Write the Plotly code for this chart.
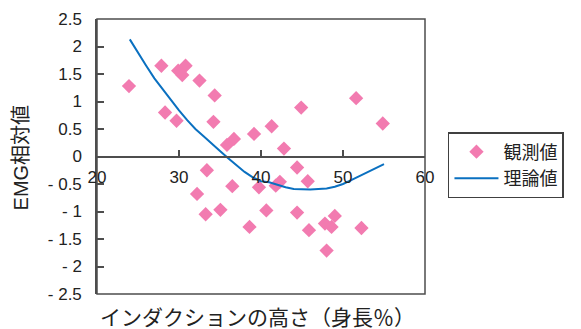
import plotly.graph_objects as go

# Observed values (観測値)
obs_x = [23.9, 27.85, 29.9, 30.8, 30.4, 32.5, 34.35, 28.3, 29.7, 34.2,
         44.9, 41.3, 39.15, 36.7, 35.85, 42.8, 51.6, 54.85,
         33.4, 32.2, 36.5, 33.25, 35.05, 38.6, 39.75, 40.65, 41.8, 42.3,
         44.4, 45.7, 44.4, 45.85, 47.8, 48.6, 49.0, 52.25, 48.0]
obs_y = [1.28, 1.65, 1.56, 1.65, 1.48, 1.38, 1.11, 0.80, 0.65, 0.63,
         0.89, 0.55, 0.41, 0.32, 0.21, 0.145, 1.06, 0.60,
         -0.25, -0.68, -0.54, -1.05, -0.97, -1.28, -0.56, -0.98, -0.53, -0.46,
         -0.20, -0.45, -1.02, -1.34, -1.22, -1.28, -1.08, -1.30, -1.71]

# Theoretical curve (理論値)
th_x = [24, 25, 26, 27, 28, 29, 30, 31, 32, 33, 34, 35, 36, 37, 38, 39, 40,
        41, 42, 43, 44, 45, 46, 47, 48, 49, 50, 51, 52, 53, 54, 55]
th_y = [2.13, 1.88, 1.65, 1.42, 1.22, 1.02, 0.84, 0.66, 0.50, 0.37, 0.23, 0.10,
        -0.03, -0.15, -0.28, -0.38, -0.45, -0.47, -0.52, -0.56, -0.59, -0.60,
        -0.60, -0.59, -0.58, -0.55, -0.50, -0.43, -0.36, -0.28, -0.21, -0.14]

x_ticks = [20, 30, 40, 50, 60]
y_ticks = [2.5, 2, 1.5, 1, 0.5, 0, -0.5, -1, -1.5, -2, -2.5]
y_ticktext = ["2.5", "2", "1.5", "1", "0.5", "0", "- 0.5", "- 1", "- 1.5", "- 2", "- 2.5"]

FONT = "Liberation Sans, Arial, Noto Sans CJK JP, sans-serif"
AX = "#4d4d4d"

fig = go.Figure()
fig.add_trace(go.Scatter(
    x=obs_x, y=obs_y, mode="markers", name="観測値",
    marker=dict(symbol="diamond", size=11, color="#F27BB0", line=dict(width=0)),
))
fig.add_trace(go.Scatter(
    x=th_x, y=th_y, mode="lines", name="理論値",
    line=dict(color="#0A70C0", width=2),
))

# The page body has an 8px default margin, so the figure is sized 8px smaller.
fig.update_layout(
    width=573, height=321,
    margin=dict(l=89, r=156, t=11, b=35, autoexpand=False),
    paper_bgcolor="white", plot_bgcolor="white",
    font=dict(family=FONT, size=17, color="#222222"),
    xaxis=dict(
        range=[20, 60], tickvals=x_ticks, ticktext=[str(v) for v in x_ticks],
        anchor="free", position=0.5,
        showline=True, linecolor=AX, linewidth=1.5,
        ticks="inside", ticklen=6, tickcolor=AX, tickwidth=1.5,
        showgrid=False, zeroline=False,
        ticklabelstandoff=5,
        tickfont=dict(size=17, family=FONT, color="#222222"),
    ),
    yaxis=dict(
        range=[-2.5, 2.5], tickvals=y_ticks, ticktext=y_ticktext,
        showline=True, linecolor=AX, linewidth=1.5,
        ticks="inside", ticklen=7, tickcolor=AX, tickwidth=1.5,
        showgrid=False, zeroline=False,
        ticklabelstandoff=10,
        tickfont=dict(size=17, family=FONT, color="#222222"),
    ),
    legend=dict(
        x=1.07, y=0.589, xanchor="left", yanchor="top",
        bordercolor="#404040", borderwidth=1.5,
        font=dict(size=18, family=FONT, color="#222222"),
        itemwidth=44, tracegroupgap=0,
    ),
    shapes=[dict(type="rect", xref="paper", yref="paper", x0=0, x1=1, y0=0, y1=1,
                 line=dict(color=AX, width=1.5), fillcolor="rgba(0,0,0,0)", layer="above")],
    annotations=[
        dict(text="インダクションの高さ（身長％）", xref="paper", yref="paper",
             x=0.489, y=-0.086, xanchor="center", yanchor="middle", showarrow=False,
             font=dict(size=21, family=FONT, color="#222222")),
        dict(text="EMG相対値", xref="paper", yref="paper", textangle=-90,
             x=-0.233, y=0.495, xanchor="center", yanchor="middle", showarrow=False,
             font=dict(size=20, family=FONT, color="#222222")),
    ],
)

fig.write_html("out.html")
